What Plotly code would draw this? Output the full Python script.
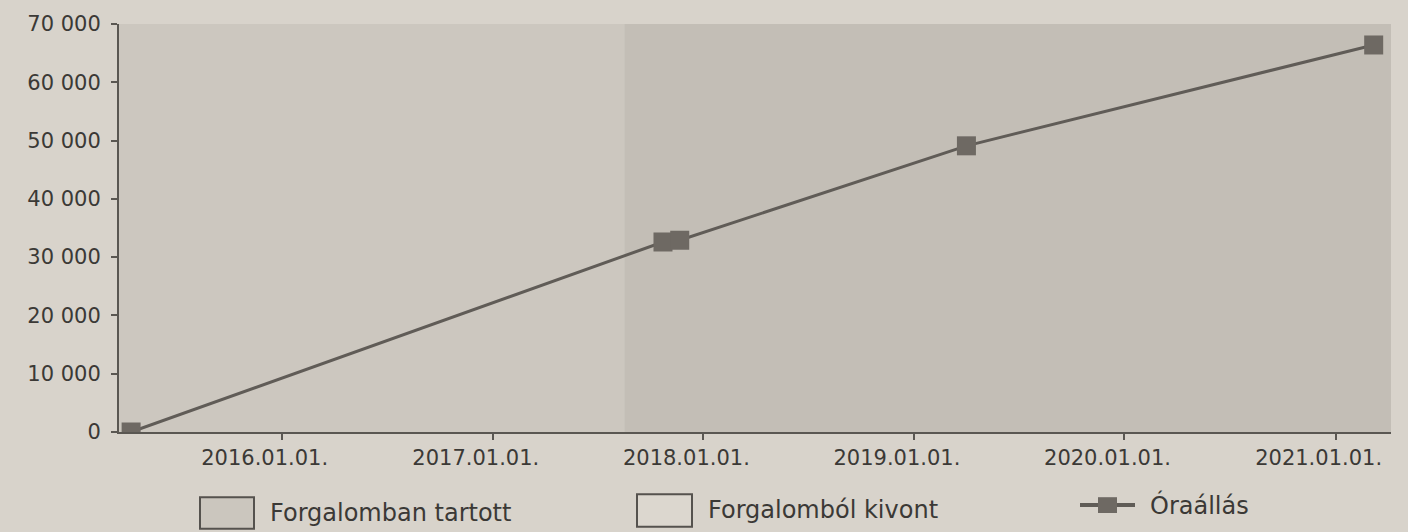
import plotly.graph_objects as go

# ---- data ----
reading_dates = ["2015-04-15", "2017-10-23", "2017-11-21", "2019-04-02", "2021-03-08"]
reading_km = [0, 32600, 32900, 49100, 66400]

period_names = ["Forgalomban tartott", "Forgalomban tartott"]
period_starts = ["2015-03-25", "2017-08-17"]
period_ends = ["2017-08-17", "2021-04-07"]

x_tick_vals = ["2016-01-01", "2017-01-01", "2018-01-01", "2019-01-01", "2020-01-01", "2021-01-01"]
x_tick_text = ["2016.01.01.", "2017.01.01.", "2018.01.01.", "2019.01.01.", "2020.01.01.", "2021.01.01."]
y_tick_vals = [0, 10000, 20000, 30000, 40000, 50000, 60000, 70000]
y_tick_text = ["0", "10 000", "20 000", "30 000", "40 000", "50 000", "60 000", "70 000"]

legend_labels = ["Forgalomban tartott", "Forgalomból kivont", "Óraállás"]

# ---- style ----
W, H = 1408, 532
L, R, T, B = 119, 17, 19, 100
PAPER = "#d8d3cb"
TEXT = "#3b3936"
AXIS = "#5a5752"
LINE = "#605c57"
MARK = "#6e6963"
period_colors = ["#ccc7bf", "#c3beb6"]
FONT = "DejaVu Sans"

pw = W - L - R
ph = H - T - B


def px(x):
    return (x - L) / pw


def py(y):
    return (H - B - y) / ph


fig = go.Figure()

fig.add_trace(go.Scatter(
    x=reading_dates, y=reading_km, mode="lines+markers",
    name=legend_labels[2],
    line=dict(color=LINE, width=3),
    marker=dict(symbol="square", size=19, color=MARK, line=dict(color=MARK, width=0)),
    showlegend=False, cliponaxis=True,
))

shapes = []
for s, e, c in zip(period_starts, period_ends, period_colors):
    shapes.append(dict(type="rect", xref="x", yref="paper", x0=s, x1=e, y0=0, y1=1,
                       fillcolor=c, line=dict(width=0), layer="below"))

# manual legend
shapes.append(dict(type="rect", xref="paper", yref="paper",
                   x0=px(200), x1=px(254), y0=py(530), y1=py(498),
                   fillcolor="#cbc6be", line=dict(color="#55524e", width=2)))
shapes.append(dict(type="rect", xref="paper", yref="paper",
                   x0=px(637), x1=px(692), y0=py(528), y1=py(495),
                   fillcolor="#dcd7cf", line=dict(color="#55524e", width=2)))
shapes.append(dict(type="line", xref="paper", yref="paper",
                   x0=px(1080), x1=px(1135), y0=py(506), y1=py(506),
                   line=dict(color=LINE, width=4)))
shapes.append(dict(type="rect", xref="paper", yref="paper",
                   x0=px(1098), x1=px(1117), y0=py(514), y1=py(498),
                   fillcolor=MARK, line=dict(color=MARK, width=0)))

annotations = [
    dict(text=legend_labels[0], x=px(268), y=py(514), xref="paper", yref="paper",
         xanchor="left", yanchor="middle", showarrow=False, font=dict(size=24, color=TEXT, family=FONT)),
    dict(text=legend_labels[1], x=px(706), y=py(511), xref="paper", yref="paper",
         xanchor="left", yanchor="middle", showarrow=False, font=dict(size=24, color=TEXT, family=FONT)),
    dict(text=legend_labels[2], x=px(1148), y=py(506), xref="paper", yref="paper",
         xanchor="left", yanchor="middle", showarrow=False, font=dict(size=24, color=TEXT, family=FONT)),
]

fig.update_layout(
    width=W, height=H,
    margin=dict(l=L, r=R, t=T, b=B),
    paper_bgcolor=PAPER, plot_bgcolor=PAPER,
    font=dict(family=FONT, color=TEXT, size=21),
    shapes=shapes, annotations=annotations,
    showlegend=False,
)
fig.update_xaxes(
    type="date", range=["2015-03-25", "2021-04-07"],
    tickvals=x_tick_vals, ticktext=x_tick_text,
    showgrid=False, zeroline=False,
    showline=True, linecolor=AXIS, linewidth=2,
    ticks="outside", ticklen=6, tickcolor=AXIS, tickwidth=2,
    ticklabelshift=-17,
    tickfont=dict(size=21, color=TEXT, family=FONT),
)
fig.update_yaxes(
    range=[0, 70000],
    tickvals=y_tick_vals, ticktext=y_tick_text,
    showgrid=False, zeroline=False,
    showline=True, linecolor=AXIS, linewidth=2,
    ticks="outside", ticklen=6, tickcolor=AXIS, tickwidth=2,
    ticklabelstandoff=6,
    tickfont=dict(size=21, color=TEXT, family=FONT),
)

fig.write_html(
    "out.html",
    config={"displayModeBar": False},
    post_script="document.body.style.margin='0';document.body.style.background='%s';" % PAPER,
)
